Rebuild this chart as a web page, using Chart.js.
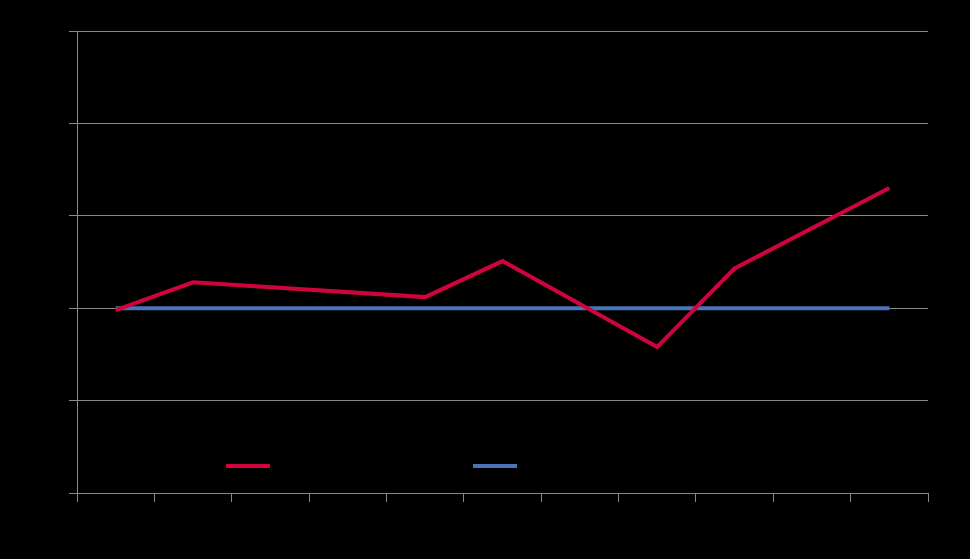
<!DOCTYPE html>
<html>
<head>
<meta charset="utf-8">
<script src="https://cdn.jsdelivr.net/npm/chart.js@4/dist/chart.umd.min.js"></script>
<style>
  html, body { margin: 0; padding: 0; background: #000; }
  #wrap { width: 970px; height: 559px; position: relative; }
</style>
</head>
<body>
<div id="wrap"><canvas id="c" width="970" height="559"></canvas></div>
<script>
const categories = ['1', '2', '3', '4', '5', '6', '7', '8', '9', '10', '11'];
const seriesA = [-0.02, 0.28, null, null, 0.12, 0.51, null, -0.42, 0.43, null, 1.30];
const seriesB = [0, 0, 0, 0, 0, 0, 0, 0, 0, 0, 0];
const seriesNames = ['Series 1', 'Series 2'];
const yTicks = [-2, -1, 0, 1, 2, 3];

const legendInside = {
  id: 'legendInside',
  afterDatasetsDraw(chart) {
    const ctx = chart.ctx;
    const area = chart.chartArea;
    const y = area.bottom - 27;
    const xs = [area.left + 149, area.left + 396];
    chart.data.datasets.forEach((ds, i) => {
      ctx.save();
      ctx.strokeStyle = ds.borderColor;
      ctx.lineWidth = 4;
      ctx.beginPath();
      ctx.moveTo(xs[i], y);
      ctx.lineTo(xs[i] + 44, y);
      ctx.stroke();
      ctx.fillStyle = '#000000';
      ctx.font = '13px "Liberation Sans", Arial, sans-serif';
      ctx.textBaseline = 'middle';
      ctx.fillText(ds.label, xs[i] + 50, y);
      ctx.restore();
    });
  }
};

new Chart(document.getElementById('c'), {
  type: 'line',
  data: {
    labels: categories,
    datasets: [
      { label: seriesNames[0], data: seriesA, borderColor: '#D0043C', borderWidth: 4, pointRadius: 0, spanGaps: true, tension: 0 },
      { label: seriesNames[1], data: seriesB, borderColor: '#4A74B6', borderWidth: 4, pointRadius: 0, tension: 0 }
    ]
  },
  options: {
    responsive: false,
    animation: false,
    layout: { padding: { left: 69, top: 31, right: 42, bottom: 57 } },
    plugins: { legend: { display: false }, tooltip: { enabled: false } },
    scales: {
      x: {
        offset: true,
        grid: { offset: true, drawOnChartArea: false, drawTicks: true, tickLength: 9, color: '#888888', lineWidth: 1 },
        border: { color: '#888888', width: 1 },
        ticks: { display: false }
      },
      y: {
        min: yTicks[0],
        max: yTicks[yTicks.length - 1],
        afterBuildTicks: (axis) => { axis.ticks = yTicks.map(v => ({ value: v })); },
        grid: { drawTicks: true, tickLength: 8, color: '#888888', lineWidth: 1 },
        border: { color: '#888888', width: 1 },
        ticks: { display: false }
      }
    }
  },
  plugins: [legendInside]
});
</script>
</body>
</html>
